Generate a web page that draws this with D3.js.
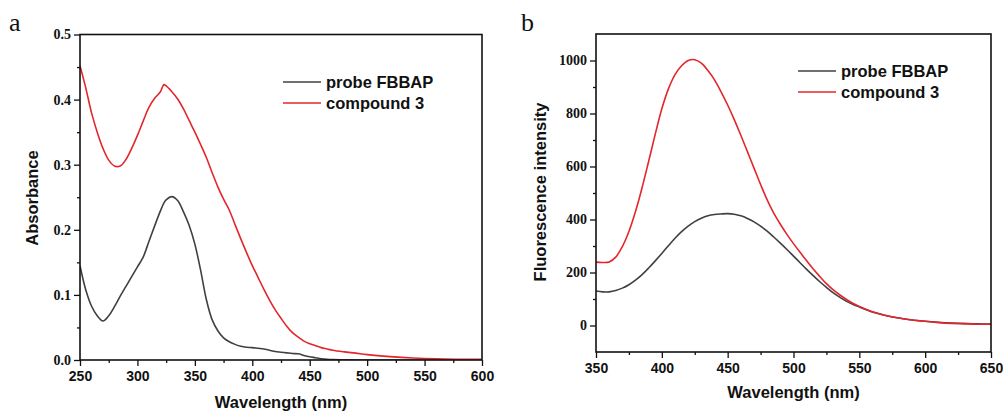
<!DOCTYPE html>
<html>
<head>
<meta charset="utf-8">
<script src="https://cdn.jsdelivr.net/npm/d3@7"></script>
<style>
  html, body { margin: 0; padding: 0; background: #fff; }
  svg { display: block; }
</style>
</head>
<body>
<div id="chart"></div>
<script>
// Panel a: UV-vis absorption
const absWavelengths = [250,255,260,265,270,275,280,285,290,295,300,305,310,315,320,323,325,330,335,340,345,350,355,360,365,370,375,380,385,390,395,400,405,410,415,420,425,430,435,440,445,450,455,460,465,470,480,490,500,520,540,560,580,600];
const absProbe = [0.145,0.108,0.083,0.068,0.060,0.068,0.082,0.098,0.113,0.128,0.143,0.158,0.182,0.206,0.229,0.241,0.246,0.251,0.245,0.228,0.207,0.178,0.138,0.093,0.062,0.045,0.034,0.028,0.024,0.021,0.0195,0.019,0.018,0.017,0.015,0.013,0.012,0.011,0.010,0.0095,0.007,0.005,0.0035,0.002,0.001,0.0005,0.0002,0,0,0,0,0,0,0];
const absCompound = [0.452,0.418,0.380,0.350,0.325,0.307,0.298,0.298,0.308,0.325,0.345,0.367,0.388,0.402,0.412,0.423,0.421,0.412,0.401,0.386,0.368,0.350,0.331,0.311,0.288,0.266,0.247,0.230,0.208,0.186,0.165,0.145,0.127,0.109,0.092,0.077,0.064,0.052,0.042,0.035,0.029,0.025,0.022,0.019,0.017,0.015,0.0125,0.0105,0.0083,0.0052,0.003,0.0017,0.0012,0.001];
const absXTicks = [250,300,350,400,450,500,550,600];
const absYTicks = [0,0.1,0.2,0.3,0.4,0.5];

// Panel b: fluorescence emission
const flWavelengths = [350,355,360,365,370,375,380,385,390,395,400,405,410,415,420,425,430,435,440,445,450,455,460,465,470,475,480,485,490,495,500,505,510,515,520,525,530,535,540,545,550,560,570,580,590,600,610,620,630,640,650];
const flProbe = [130,127,127,132,141,154,171,192,217,244,272,301,329,354,375,392,405,414,419,421,422,420,414,404,391,375,356,334,311,287,262,237,212,188,165,144,124,107,92,80,70,51,38,28,21,16,12,9,7,6,5];
const flCompound = [239,238,240,258,298,355,430,520,620,722,818,893,947,980,1000,1003,990,962,927,882,832,777,718,656,594,532,474,424,382,344,309,276,244,213,185,158,135,116,99,84,72,52,38,28,21,16,11,8,7,5,5];
const flXTicks = [350,400,450,500,550,600,650];
const flYTicks = [0,200,400,600,800,1000];

const seriesNames = ['probe FBBAP', 'compound 3'];
const seriesColors = ['#404040', '#e3262c'];

const svg = d3.select('#chart')
    .append('svg')
    .attr('width', 1003)
    .attr('height', 414);

function drawPanel(cfg) {
    const g = svg.append('g');

    const x = d3.scaleLinear().domain(cfg.xDomain).range([cfg.left, cfg.right]);
    const y = d3.scaleLinear().domain(cfg.yDomain).range([cfg.bottom, cfg.top]);

    // minor ticks
    g.append('g')
        .attr('transform', `translate(0,${cfg.bottom})`)
        .call(d3.axisBottom(x).tickValues(cfg.xMinor).tickSize(3).tickFormat(''))
        .call(a => a.select('.domain').remove());
    g.append('g')
        .attr('transform', `translate(${cfg.left},0)`)
        .call(d3.axisLeft(y).tickValues(cfg.yMinor).tickSize(3).tickFormat(''))
        .call(a => a.select('.domain').remove());

    // major ticks + labels
    const xAxis = g.append('g')
        .attr('transform', `translate(0,${cfg.bottom})`)
        .call(d3.axisBottom(x).tickValues(cfg.xTicks).tickSize(6).tickPadding(5).tickSizeOuter(0));
    xAxis.select('.domain').remove();
    xAxis.selectAll('text')
        .style('font-family', 'Arial, "Liberation Sans", sans-serif')
        .style('font-weight', 'bold')
        .style('font-size', '14px')
        .style('fill', '#111');

    const yAxis = g.append('g')
        .attr('transform', `translate(${cfg.left},0)`)
        .call(d3.axisLeft(y).tickValues(cfg.yTicks).tickSize(6).tickPadding(3).tickFormat(cfg.yFormat));
    yAxis.select('.domain').remove();
    yAxis.selectAll('text')
        .style('font-family', '"Times New Roman", "Liberation Serif", serif')
        .style('font-weight', 'bold')
        .style('font-size', '14px')
        .style('fill', '#111');
    g.selectAll('.tick line').attr('stroke', '#111').attr('stroke-width', 1.3);

    // lines
    const line = d3.line()
        .x((d, i) => x(cfg.wl[i]))
        .y(d => y(d))
        .curve(d3.curveCatmullRom.alpha(0.5));

    const clipId = 'clip-' + cfg.id;
    g.append('clipPath').attr('id', clipId)
        .append('rect')
        .attr('x', cfg.left).attr('y', cfg.top)
        .attr('width', cfg.right - cfg.left).attr('height', cfg.bottom - cfg.top);

    cfg.series.forEach((vals, k) => {
        g.append('path')
            .datum(vals)
            .attr('clip-path', `url(#${clipId})`)
            .attr('fill', 'none')
            .attr('stroke', seriesColors[k])
            .attr('stroke-width', 1.6)
            .attr('d', line);
    });

    // frame
    g.append('rect')
        .attr('x', cfg.left).attr('y', cfg.top)
        .attr('width', cfg.right - cfg.left).attr('height', cfg.bottom - cfg.top)
        .attr('fill', 'none')
        .attr('stroke', '#111')
        .attr('stroke-width', 1.6);

    // legend
    seriesNames.forEach((name, k) => {
        const ly = cfg.legendY + k * 21;
        g.append('line')
            .attr('x1', cfg.legendX).attr('x2', cfg.legendX + 38)
            .attr('y1', ly).attr('y2', ly)
            .attr('stroke', seriesColors[k])
            .attr('stroke-width', 1.6);
        g.append('text')
            .attr('x', cfg.legendX + 43)
            .attr('y', ly)
            .attr('dy', '0.35em')
            .style('font-family', 'Arial, "Liberation Sans", sans-serif')
            .style('font-weight', 'bold')
            .style('font-size', '16.5px')
            .style('fill', '#111')
            .text(name);
    });

    // axis titles
    g.append('text')
        .attr('x', (cfg.left + cfg.right) / 2)
        .attr('y', cfg.xTitleY)
        .attr('text-anchor', 'middle')
        .style('font-family', 'Arial, "Liberation Sans", sans-serif')
        .style('font-weight', 'bold')
        .style('font-size', '16.5px')
        .style('fill', '#111')
        .text('Wavelength (nm)');

    g.append('text')
        .attr('transform', `translate(${cfg.yTitleX},${cfg.yTitleCy}) rotate(-90)`)
        .attr('text-anchor', 'middle')
        .attr('dy', '0.35em')
        .style('font-family', 'Arial, "Liberation Sans", sans-serif')
        .style('font-weight', 'bold')
        .style('font-size', '16.5px')
        .style('fill', '#111')
        .text(cfg.yTitle);

    // panel letter
    g.append('text')
        .attr('x', cfg.letterX)
        .attr('y', 31)
        .style('font-family', '"Times New Roman", "Liberation Serif", serif')
        .style('font-size', '26px')
        .style('fill', '#111')
        .text(cfg.letter);
}

drawPanel({
    id: 'a', letter: 'a', letterX: 9,
    left: 80, right: 482, top: 34.5, bottom: 360,
    xDomain: [250, 600], yDomain: [0, 0.5],
    xTicks: absXTicks, xMinor: [275,325,375,425,475,525,575],
    yTicks: absYTicks, yMinor: [0.05,0.15,0.25,0.35,0.45],
    yFormat: d3.format('.1f'),
    wl: absWavelengths, series: [absProbe, absCompound],
    legendX: 283, legendY: 82,
    xTitleY: 408, yTitle: 'Absorbance', yTitleX: 32.5, yTitleCy: 198
});

drawPanel({
    id: 'b', letter: 'b', letterX: 521,
    left: 596, right: 991, top: 34, bottom: 352,
    xDomain: [350, 650], yDomain: [-100, 1100],
    xTicks: flXTicks, xMinor: [375,425,475,525,575,625],
    yTicks: flYTicks, yMinor: [100,300,500,700,900],
    yFormat: d3.format('d'),
    wl: flWavelengths, series: [flProbe, flCompound],
    legendX: 798, legendY: 71,
    xTitleY: 398, yTitle: 'Fluorescence intensity', yTitleX: 540, yTitleCy: 192
});
</script>
</body>
</html>
